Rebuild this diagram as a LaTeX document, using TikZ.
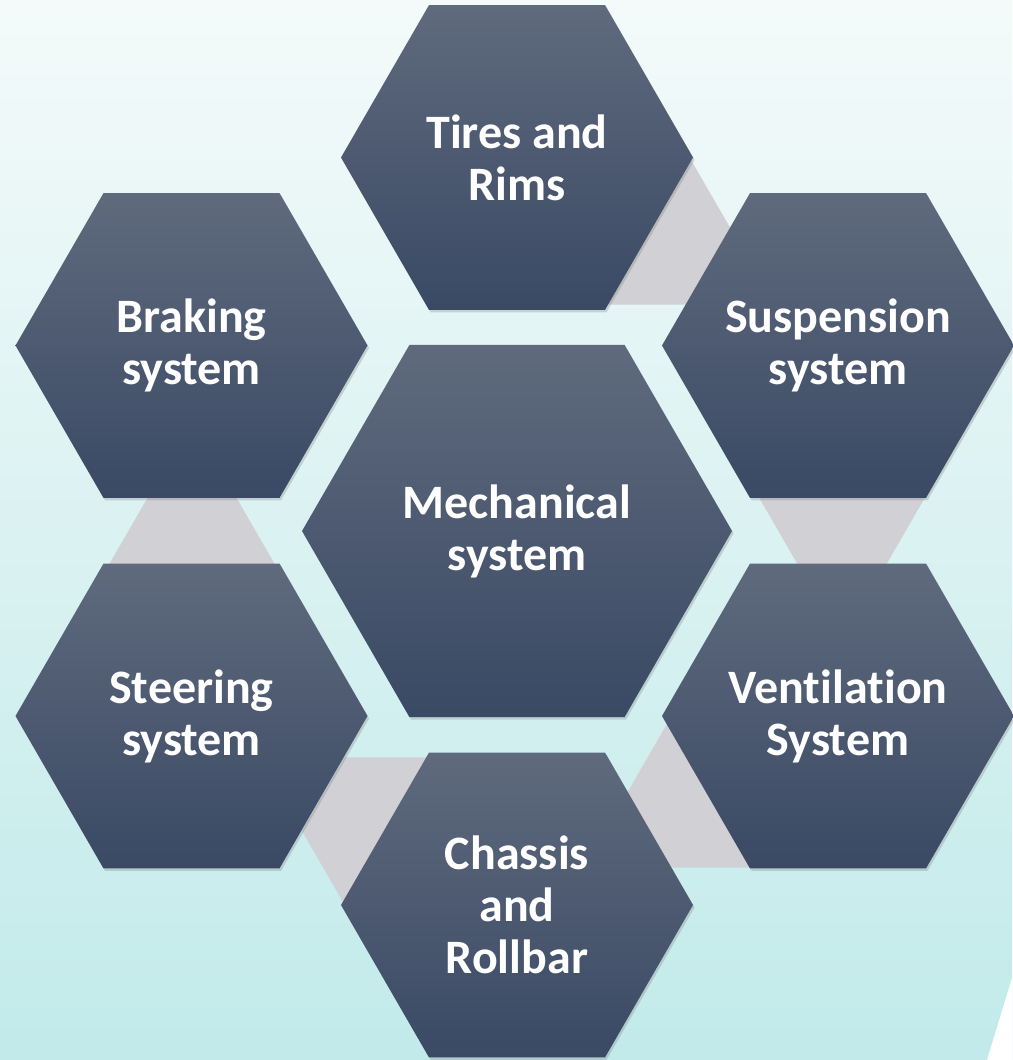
\documentclass[tikz,border=0pt]{standalone}
\usepackage{fontspec}
\setmainfont{Carlito}[Ligatures=NoCommon]
\usetikzlibrary{shapes.geometric,shadows}
\definecolor{bgtop}{HTML}{F4FAFA}
\definecolor{bgbot}{HTML}{C2EAEA}
\definecolor{hextop}{HTML}{5F6A7D}
\definecolor{hexmid}{HTML}{46566F}
\definecolor{hexbot}{HTML}{3A4964}
\definecolor{linkgray}{HTML}{D0D0D5}
\begin{document}
\begin{tikzpicture}[x=0.5pt,y=-0.5pt,
  hexbox/.style={regular polygon, regular polygon sides=6, inner sep=0pt, outer sep=0pt,
    top color=hextop, middle color=hexmid, bottom color=hexbot,
    drop shadow={shadow xshift=0.8pt,shadow yshift=-1.2pt,opacity=0.3}},
  outerhex/.style={hexbox, minimum size=176pt},
  centerhex/.style={hexbox, minimum size=215pt},
  hextext/.style={inner sep=0pt, text=white, align=center, font=\bfseries\fontsize{24}{26}\selectfont},
  ghex/.pic={\fill[linkgray] (-85,0) -- (-42.5,-73.6) -- (42.5,-73.6) -- (85,0) -- (42.5,73.6) -- (-42.5,73.6) -- cycle;}
]
\useasboundingbox (0,0) rectangle (1012,1060);
\fill[top color=bgtop, bottom color=bgbot] (0,0) rectangle (1012,1060);
\fill[white] (1012,978) -- (987,1060) -- (1012,1060) -- cycle;
% gray links
\foreach \gx/\gy in {842/494, 647/231, 192/568, 387/831, 711.5/794}
  \pic at (\gx,\gy) {ghex};
% outer hexagons
\node[outerhex] (tires) at (517,157.5) {};
\node[outerhex] (brake) at (191.5,345.5) {};
\node[outerhex] (susp) at (838,345.5) {};
\node[outerhex] (steer) at (191.5,716) {};
\node[outerhex] (vent) at (838,716) {};
\node[outerhex] (chassis) at (517,905) {};
% center
\node[centerhex] (mech) at (517,531) {};
% texts
\node[hextext] (tirestxt) at (tires) {Tires and\\Rims};
\node[hextext] (braketxt) at (brake) {Braking\\system};
\node[hextext] (susptxt) at (susp) {Suspension\\system};
\node[hextext] (steertxt) at (steer) {Steering\\system};
\node[hextext] (venttxt) at (vent) {Ventilation\\System};
\node[hextext] (chassistxt) at (chassis) {Chassis\\and\\Rollbar};
\node[hextext] (mechtxt) at (mech) {Mechanical\\system};
\end{tikzpicture}
\end{document}
